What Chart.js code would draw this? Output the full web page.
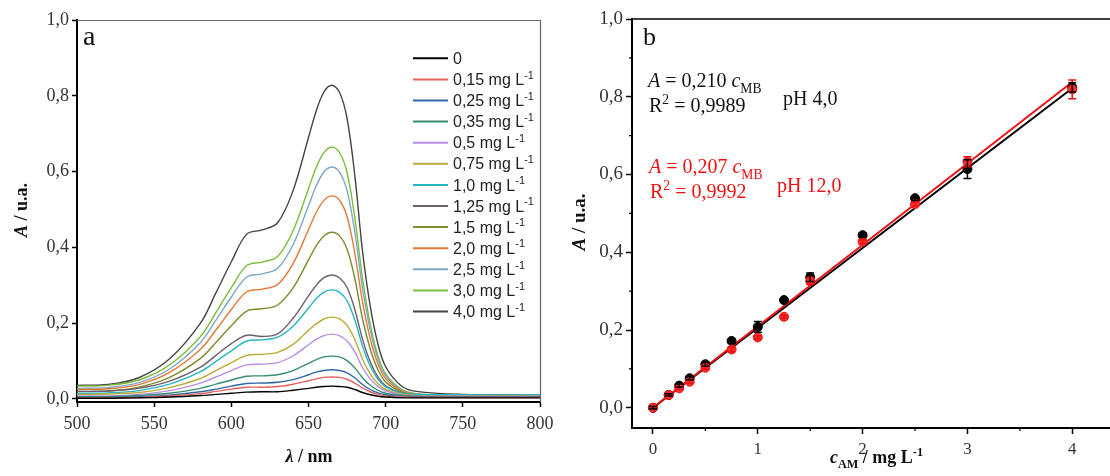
<!DOCTYPE html>
<html>
<head>
<meta charset="utf-8">
<script src="https://cdn.jsdelivr.net/npm/chart.js@4.4.0/dist/chart.umd.min.js"></script>
<style>
  html, body { margin: 0; padding: 0; background: #fff; width: 1110px; height: 476px; overflow: hidden; }
  #specChart { position: absolute; left: 0; top: 0; }
  #calChart { position: absolute; left: 555px; top: 0; }
</style>
</head>
<body>
<canvas id="specChart" width="560" height="476"></canvas>
<canvas id="calChart" width="555" height="476"></canvas>
<script>
// ---- panel a: spectra ----
const wavelengths = [500, 520, 540, 560, 580, 590, 600, 610, 620, 630, 640, 650, 655, 660, 665, 670, 675, 680, 685, 690, 695, 700, 710, 720, 750, 800]
const concLabels = ['0', '0,15', '0,25', '0,35', '0,5', '0,75', '1,0', '1,25', '1,5', '2,0', '2,5', '3,0', '4,0']
const spectrumColors = ['#000000', '#e5625e', '#2f68a6', '#378e72', '#b88ee0', '#bcab36', '#26b6c2', '#6e5e6e', '#7b8c2c', '#e27a38', '#7ea7c8', '#7cbd3c', '#454545']

const abs0   = [0.002, 0.002, 0.003, 0.005, 0.009, 0.012, 0.015, 0.018, 0.019, 0.019, 0.023, 0.028, 0.031, 0.033, 0.034, 0.033, 0.031, 0.025, 0.017, 0.011, 0.007, 0.005, 0.003, 0.003, 0.003, 0.003]
const abs015 = [0.003, 0.003, 0.004, 0.008, 0.014, 0.020, 0.026, 0.031, 0.031, 0.033, 0.039, 0.048, 0.053, 0.057, 0.058, 0.057, 0.052, 0.042, 0.029, 0.019, 0.012, 0.008, 0.005, 0.004, 0.004, 0.004]
const abs025 = [0.004, 0.004, 0.006, 0.010, 0.019, 0.026, 0.034, 0.041, 0.042, 0.044, 0.051, 0.064, 0.071, 0.075, 0.077, 0.075, 0.069, 0.056, 0.038, 0.025, 0.016, 0.011, 0.006, 0.005, 0.005, 0.005]
const abs035 = [0.006, 0.006, 0.009, 0.015, 0.028, 0.039, 0.050, 0.060, 0.061, 0.064, 0.075, 0.094, 0.104, 0.111, 0.113, 0.111, 0.101, 0.082, 0.056, 0.036, 0.023, 0.015, 0.009, 0.007, 0.006, 0.006]
const abs05  = [0.008, 0.008, 0.012, 0.022, 0.042, 0.058, 0.075, 0.090, 0.092, 0.096, 0.114, 0.143, 0.157, 0.167, 0.171, 0.167, 0.153, 0.124, 0.083, 0.053, 0.033, 0.021, 0.011, 0.008, 0.007, 0.007]
const abs075 = [0.012, 0.013, 0.017, 0.030, 0.054, 0.075, 0.096, 0.115, 0.118, 0.123, 0.144, 0.181, 0.198, 0.211, 0.216, 0.212, 0.194, 0.157, 0.105, 0.066, 0.040, 0.025, 0.013, 0.009, 0.008, 0.008]
const abs10  = [0.015, 0.016, 0.022, 0.039, 0.072, 0.099, 0.127, 0.153, 0.156, 0.163, 0.192, 0.240, 0.265, 0.282, 0.288, 0.282, 0.259, 0.209, 0.140, 0.087, 0.052, 0.032, 0.016, 0.012, 0.011, 0.011]
const abs125 = [0.020, 0.021, 0.028, 0.047, 0.084, 0.115, 0.146, 0.168, 0.165, 0.172, 0.213, 0.272, 0.300, 0.320, 0.327, 0.320, 0.294, 0.236, 0.158, 0.098, 0.058, 0.035, 0.016, 0.010, 0.008, 0.008]
const abs15  = [0.020, 0.021, 0.031, 0.057, 0.107, 0.149, 0.193, 0.232, 0.238, 0.248, 0.293, 0.367, 0.404, 0.430, 0.440, 0.431, 0.395, 0.318, 0.211, 0.132, 0.077, 0.045, 0.019, 0.011, 0.008, 0.008]
const abs20  = [0.025, 0.027, 0.038, 0.070, 0.131, 0.182, 0.236, 0.283, 0.290, 0.302, 0.357, 0.447, 0.492, 0.524, 0.536, 0.525, 0.481, 0.385, 0.256, 0.159, 0.093, 0.054, 0.022, 0.012, 0.008, 0.008]
const abs25  = [0.028, 0.030, 0.043, 0.079, 0.149, 0.208, 0.269, 0.322, 0.330, 0.345, 0.407, 0.510, 0.562, 0.599, 0.612, 0.599, 0.549, 0.440, 0.292, 0.182, 0.106, 0.061, 0.024, 0.013, 0.009, 0.009]
const abs30  = [0.034, 0.036, 0.050, 0.090, 0.165, 0.228, 0.294, 0.352, 0.361, 0.376, 0.444, 0.555, 0.611, 0.650, 0.665, 0.651, 0.597, 0.478, 0.318, 0.197, 0.114, 0.066, 0.026, 0.014, 0.009, 0.009]
const abs40  = [0.036, 0.038, 0.056, 0.106, 0.200, 0.280, 0.362, 0.435, 0.446, 0.465, 0.550, 0.690, 0.760, 0.810, 0.828, 0.810, 0.740, 0.590, 0.390, 0.245, 0.145, 0.085, 0.035, 0.020, 0.012, 0.010]
const spectra = [abs0, abs015, abs025, abs035, abs05, abs075, abs10, abs125, abs15, abs20, abs25, abs30, abs40]

// ---- panel b: calibration ----
const concX    = [0, 0.15, 0.25, 0.35, 0.5, 0.75, 1.0, 1.25, 1.5, 2.0, 2.5, 3.0, 4.0]
const absPH4   = [0.0, 0.033, 0.057, 0.076, 0.112, 0.172, 0.208, 0.277, 0.336, 0.444, 0.539, 0.614, 0.824]
const errPH4   = [0.003, 0.003, 0.004, 0.004, 0.005, 0.005, 0.014, 0.006, 0.011, 0.006, 0.006, 0.024, 0.012]
const absPH12  = [0.0, 0.033, 0.050, 0.067, 0.103, 0.150, 0.181, 0.234, 0.326, 0.427, 0.524, 0.633, 0.819]
const errPH12  = [0.003, 0.003, 0.003, 0.004, 0.004, 0.006, 0.004, 0.004, 0.009, 0.005, 0.005, 0.013, 0.024]
const fitX     = [0, 4]
const fitPH4   = [0.0, 0.822]
const fitPH12  = [0.0, 0.838]

const SERIF = '"Liberation Serif", "Times New Roman", serif'
const SANS = '"Liberation Sans", Arial, sans-serif'
const comma = v => v.toFixed(1).replace('.', ',')

// text runs with italic / bold / sub / sup pieces
function runsFont(r, size) {
  const s = (r.sub || r.sup) ? size * 0.68 : size
  return `${r.i ? 'italic ' : ''}${r.b ? 'bold ' : ''}${s}px ${r.f || SERIF}`
}
function runsWidth(ctx, runs, size) {
  let w = 0
  for (const r of runs) { ctx.font = runsFont(r, size); w += ctx.measureText(r.t).width }
  return w
}
function drawRuns(ctx, x, y, runs, size, color) {
  ctx.save()
  ctx.fillStyle = color
  ctx.textAlign = 'left'
  ctx.textBaseline = 'alphabetic'
  let cx = x
  for (const r of runs) {
    ctx.font = runsFont(r, size)
    const dy = r.sub ? size * 0.28 : r.sup ? -size * 0.4 : 0
    ctx.fillText(r.t, cx, y + dy)
    cx += ctx.measureText(r.t).width
  }
  ctx.restore()
}
function drawVertical(ctx, cx, cy, runs, size, color) {
  const w = runsWidth(ctx, runs, size)
  ctx.save()
  ctx.translate(cx + size * 0.33, cy)
  ctx.rotate(-Math.PI / 2)
  drawRuns(ctx, -w / 2, 0, runs, size, color)
  ctx.restore()
}

const axisBase = (fontSize, pad) => ({
  grid: { drawOnChartArea: false, drawTicks: true, tickLength: 5, tickColor: '#000', tickWidth: 1.5 },
  border: { display: true, color: '#000', width: 2 },
  ticks: { color: '#333', padding: pad, font: { family: SERIF, size: fontSize } }
})

const specPlugin = {
  id: 'specDecor',
  afterDraw(chart) {
    const { ctx, chartArea: a } = chart
    ctx.save()
    ctx.strokeStyle = '#666'
    ctx.lineWidth = 1.2
    ctx.beginPath()
    ctx.moveTo(a.left, a.top + 0.5); ctx.lineTo(a.right + 0.5, a.top + 0.5); ctx.lineTo(a.right + 0.5, a.bottom)
    ctx.stroke()
    ctx.restore()

    drawRuns(ctx, 83, 45, [{ t: 'a' }], 28, '#111')

    // legend
    chart.data.datasets.forEach((ds, i) => {
      const y = 58.3 + i * 21.1
      ctx.save()
      ctx.strokeStyle = ds.borderColor
      ctx.lineWidth = 2
      ctx.beginPath(); ctx.moveTo(413, y); ctx.lineTo(448, y); ctx.stroke()
      ctx.restore()
      const runs = i === 0 ? [{ t: '0', f: SANS }] :
        [{ t: ds.label + ' mg L', f: SANS }, { t: '-1', sup: true, f: SANS }]
      drawRuns(ctx, 453, y + 5.6, runs, 16, '#222')
    })

    drawVertical(ctx, 21, 210, [{ t: 'A', i: true, b: true }, { t: ' / u.a.', b: true }], 18, '#111')
    const xt = [{ t: 'λ', i: true, b: true }, { t: ' / nm', b: true }]
    drawRuns(ctx, 309 - runsWidth(ctx, xt, 18) / 2, 462, xt, 18, '#111')
  }
}

new Chart(document.getElementById('specChart'), {
  type: 'line',
  data: {
    datasets: spectra.map((s, i) => ({
      label: concLabels[i],
      data: wavelengths.map((w, j) => ({ x: w, y: s[j] })),
      borderColor: spectrumColors[i],
      borderWidth: 1.4,
      pointRadius: 0,
      tension: 0.35,
      fill: false
    }))
  },
  options: {
    responsive: false,
    animation: false,
    events: [],
    layout: { autoPadding: false, padding: { top: 20, right: 20, left: 0, bottom: 0 } },
    plugins: { legend: { display: false }, tooltip: { enabled: false } },
    scales: {
      x: {
        ...axisBase(18, 6), type: 'linear', min: 500, max: 800,
        ticks: { ...axisBase(18, 6).ticks, stepSize: 50 },
        afterFit(s) { s.height = 74 }
      },
      y: {
        ...axisBase(18, 3), min: -0.008, max: 1.0,
        ticks: { ...axisBase(18, 3).ticks, stepSize: 0.2, includeBounds: false, callback: comma },
        afterFit(s) { s.width = 77 }
      }
    }
  },
  plugins: [specPlugin]
})

// ---- panel b ----
const calPlugin = {
  id: 'calDecor',
  afterDatasetsDraw(chart) {
    const { ctx, scales: { x, y } } = chart
    ctx.save()
    ctx.lineWidth = 1.5
    chart.data.datasets.forEach(ds => {
      if (!ds.err) return
      ctx.strokeStyle = ds.borderColor
      ds.data.forEach((p, i) => {
        const px = x.getPixelForValue(p.x)
        const top = y.getPixelForValue(p.y + ds.err[i])
        const bot = y.getPixelForValue(p.y - ds.err[i])
        ctx.beginPath()
        ctx.moveTo(px, top); ctx.lineTo(px, bot)
        ctx.moveTo(px - 4, top); ctx.lineTo(px + 4, top)
        ctx.moveTo(px - 4, bot); ctx.lineTo(px + 4, bot)
        ctx.stroke()
      })
    })
    ctx.restore()
  },
  afterDraw(chart) {
    const { ctx, chartArea: a, scales: { x, y } } = chart
    ctx.save()
    ctx.strokeStyle = '#000'
    ctx.lineWidth = 1.5
    ctx.beginPath(); ctx.moveTo(a.left, a.top); ctx.lineTo(a.right, a.top); ctx.stroke()
    // minor ticks
    ctx.lineWidth = 1.2
    ctx.beginPath()
    for (const v of [0.5, 1.5, 2.5, 3.5]) {
      const px = x.getPixelForValue(v)
      ctx.moveTo(px, a.bottom); ctx.lineTo(px, a.bottom + 3)
    }
    for (const v of [0.1, 0.3, 0.5, 0.7, 0.9]) {
      const py = y.getPixelForValue(v)
      ctx.moveTo(a.left, py); ctx.lineTo(a.left - 3, py)
    }
    ctx.stroke()
    ctx.restore()

    const ox = -555
    drawRuns(ctx, 643 + ox, 45, [{ t: 'b' }], 26, '#111')
    drawRuns(ctx, 648 + ox, 87, [{ t: 'A', i: true }, { t: ' = 0,210 ' }, { t: 'c', i: true }, { t: 'MB', sub: true }], 20, '#111')
    drawRuns(ctx, 649 + ox, 112, [{ t: 'R' }, { t: '2', sup: true }, { t: ' = 0,9989' }], 20, '#111')
    drawRuns(ctx, 783 + ox, 105, [{ t: 'pH 4,0' }], 20, '#111')
    drawRuns(ctx, 649 + ox, 173, [{ t: 'A', i: true }, { t: ' = 0,207 ' }, { t: 'c', i: true }, { t: 'MB', sub: true }], 20, '#f21010')
    drawRuns(ctx, 650 + ox, 198, [{ t: 'R' }, { t: '2', sup: true }, { t: ' = 0,9992' }], 20, '#f21010')
    drawRuns(ctx, 777 + ox, 192, [{ t: 'pH 12,0' }], 20, '#f21010')

    drawVertical(ctx, 579 + ox, 222, [{ t: 'A', i: true, b: true }, { t: ' / u.a.', b: true }], 19, '#111')
    drawRuns(ctx, 830 + ox, 463, [{ t: 'c', i: true, b: true }, { t: 'AM', sub: true, b: true }, { t: ' / mg L', b: true }, { t: '-1', sup: true, b: true }], 18, '#111')
  }
}

const toPts = (xs, ys) => xs.map((v, i) => ({ x: v, y: ys[i] }))

new Chart(document.getElementById('calChart'), {
  type: 'scatter',
  data: {
    datasets: [
      { label: 'pH 12,0', data: toPts(concX, absPH12), err: errPH12, borderColor: '#f21010', backgroundColor: '#f53030', pointRadius: 4.5, pointBorderWidth: 1 },
      { label: 'pH 4,0', data: toPts(concX, absPH4), err: errPH4, borderColor: '#000', backgroundColor: '#000', pointRadius: 4.5, pointBorderWidth: 1 },
      { label: 'fit pH 12,0', data: toPts(fitX, fitPH12), showLine: true, borderColor: '#f21010', borderWidth: 2, pointRadius: 0 },
      { label: 'fit pH 4,0', data: toPts(fitX, fitPH4), showLine: true, borderColor: '#000', borderWidth: 2, pointRadius: 0 }
    ]
  },
  options: {
    responsive: false,
    animation: false,
    events: [],
    layout: { autoPadding: false, padding: { top: 19, right: 0, left: 0, bottom: 0 } },
    plugins: { legend: { display: false }, tooltip: { enabled: false } },
    scales: {
      x: {
        ...axisBase(17, 5), type: 'linear', min: -0.2, max: 4.36,
        grid: { ...axisBase(17, 5).grid, tickLength: 6 },
        ticks: { ...axisBase(17, 5).ticks, stepSize: 1, includeBounds: false },
        afterFit(s) { s.height = 48 }
      },
      y: {
        ...axisBase(19, 3), min: -0.052, max: 1.0,
        grid: { ...axisBase(19, 3).grid, tickLength: 6 },
        ticks: { ...axisBase(19, 3).ticks, stepSize: 0.2, includeBounds: false, callback: comma },
        afterFit(s) { s.width = 77 }
      }
    }
  },
  plugins: [calPlugin]
})
</script>
</body>
</html>
